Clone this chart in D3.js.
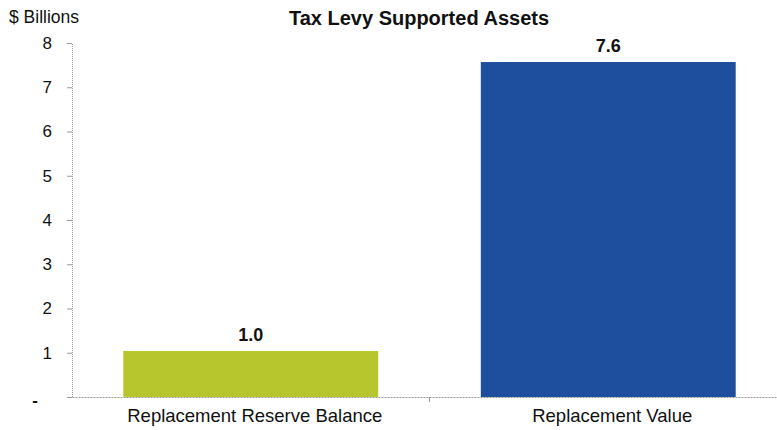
<!DOCTYPE html>
<html><head><meta charset="utf-8">
<script src="https://cdn.jsdelivr.net/npm/d3@7"></script>
<style>body{margin:0;background:#fff}svg{display:block}</style>
</head><body>
<svg id="c" width="777" height="430"></svg>
<script>
const categories = ["Replacement Reserve Balance", "Replacement Value"];
const values = [1.04, 7.57];
const barColors = ["#b6c62c", "#1d4f9e"];
const yTicks = [0, 1, 2, 3, 4, 5, 6, 7, 8];
const yTickLabels = ["-", "1", "2", "3", "4", "5", "6", "7", "8"];
const title = "Tax Levy Supported Assets";
const unitLabel = "$ Billions";

const svg = d3.select("#c");
const font = "Arial, 'Liberation Sans', sans-serif";
const x = d3.scaleBand().domain(categories).range([72, 787]).paddingInner(0.287).paddingOuter(0.1435);
const y = d3.scaleLinear().domain([0, 8]).range([397, 43]);

// title and unit
svg.append("text").attr("x", 419).attr("y", 25).attr("text-anchor", "middle")
  .attr("font-family", font).attr("font-size", 20).attr("font-weight", "bold").attr("fill", "#111").text(title);
svg.append("text").attr("x", 9).attr("y", 23).attr("font-family", font).attr("font-size", 17.5).attr("fill", "#111").text(unitLabel);

// bars
svg.selectAll("rect.bar").data(values).enter().append("rect")
  .attr("x", (d, i) => x(categories[i])).attr("width", x.bandwidth())
  .attr("y", d => y(d)).attr("height", d => y(0) - y(d))
  .attr("fill", (d, i) => barColors[i]);

// value labels
svg.selectAll("text.val").data(values).enter().append("text")
  .attr("x", (d, i) => x(categories[i]) + x.bandwidth() / 2).attr("y", d => y(d) - 10)
  .attr("text-anchor", "middle").attr("font-family", font).attr("font-size", 18).attr("font-weight", "bold")
  .attr("fill", "#111").text(d => d.toFixed(1));

// y axis
const yAxis = d3.axisLeft(y).tickValues(yTicks).tickSize(5).tickPadding(15)
  .tickFormat((d, i) => yTickLabels[i]);
const gy = svg.append("g").attr("transform", "translate(72,0)").call(yAxis);
gy.select(".domain").attr("stroke", "#999").attr("stroke-dasharray", "1,1");
gy.selectAll(".tick line").attr("stroke", "#999");
gy.selectAll(".tick text").attr("font-family", font).attr("font-size", 17).attr("fill", "#111");
gy.selectAll(".tick").filter(d => d === 0).select("text").attr("dx", -14).attr("dy", "0.5em").attr("font-weight", "bold");

// x axis
const xAxis = d3.axisBottom(x).tickSize(0).tickPadding(12);
const gx = svg.append("g").attr("transform", "translate(0,397)").call(xAxis);
gx.select(".domain").attr("stroke", "#999").attr("stroke-dasharray", "2,1");
gx.selectAll(".tick text").attr("font-family", font).attr("font-size", 18.5).attr("fill", "#111").attr("dx", 4);
// category boundary tick
gx.append("line").attr("x1", x.step() + 72).attr("x2", x.step() + 72).attr("y1", 0).attr("y2", 5).attr("stroke", "#999");
</script>
</body></html>
